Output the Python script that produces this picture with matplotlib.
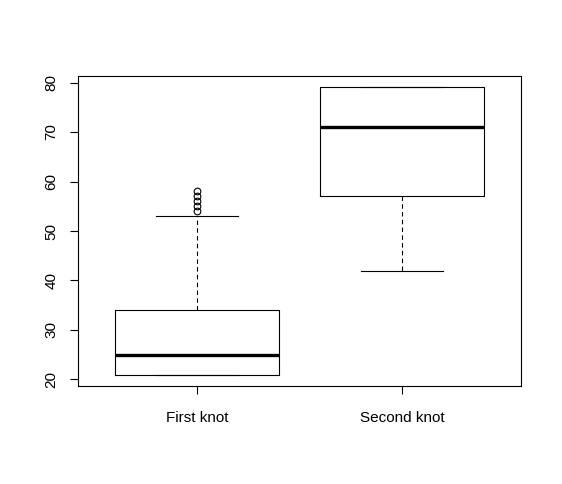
import matplotlib.pyplot as plt

# ── DATOS ─────────────────────────────────────────────────────────────────────
etiquetas = ["First knot", "Second knot"]
q1        = [21, 57]
mediana   = [25, 71]
q3        = [34, 79]
bigote_lo = [21, 42]
bigote_hi = [53, 79]
atipicos  = [[54, 55, 56, 57, 58], []]
yticks    = [20, 30, 40, 50, 60, 70, 80]

plt.rcParams['font.family'] = ['Liberation Sans', 'DejaVu Sans']

stats = []
for i in range(len(etiquetas)):
    stats.append({
        'label': etiquetas[i],
        'q1': q1[i], 'med': mediana[i], 'q3': q3[i],
        'whislo': bigote_lo[i], 'whishi': bigote_hi[i],
        'fliers': atipicos[i],
    })

fig = plt.figure(figsize=(5.62, 4.84), dpi=100)
ax = fig.add_axes([78 / 562, 1 - 386 / 484, (521 - 78) / 562, (386 - 76) / 484])

ax.bxp(stats, positions=[1, 2], widths=0.8,
       boxprops=dict(color='black', linewidth=0.8),
       medianprops=dict(color='black', linewidth=2.4, solid_capstyle='butt'),
       whiskerprops=dict(color='black', linewidth=0.8, linestyle=(0, (4, 3))),
       capprops=dict(color='black', linewidth=0.8),
       flierprops=dict(marker='o', markerfacecolor='none', markeredgecolor='black',
                       markersize=4.8, markeredgewidth=0.8),
       capwidths=0.4)

ax.set_xlim(0.42, 2.58)
ax.set_ylim(18.68, 81.32)
ax.set_yticks(yticks)
ax.set_yticklabels([str(v) for v in yticks], rotation=90, va='center')
ax.set_xticks([1, 2])
ax.set_xticklabels(etiquetas)
ax.tick_params(axis='both', direction='out', length=6, width=0.8, labelsize=11,
               color='black')
ax.tick_params(axis='x', pad=12)
ax.tick_params(axis='y', pad=8)
for s in ax.spines.values():
    s.set_linewidth(0.8)

fig.savefig("out.png", dpi=100)
